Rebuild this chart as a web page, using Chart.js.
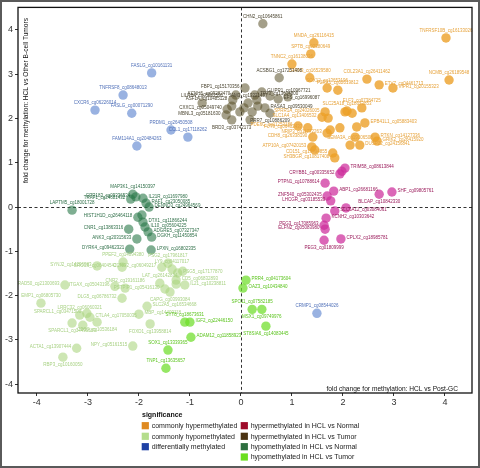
<!DOCTYPE html>
<html><head><meta charset="utf-8">
<script src="https://cdn.jsdelivr.net/npm/chart.js@4"></script>
<style>html,body{margin:0;padding:0;background:#fff;}canvas{display:block;}</style>
</head><body>
<canvas id="c" width="480" height="468"></canvas>
<script>
// ---------- data ----------
const xTicks = [-4,-3,-2,-1,0,1,2,3,4];
const yTicks = [-4,-3,-2,-1,0,1,2,3,4];

const groupNames = ["commonly hypermethylated","commonly hypomethylated","differentially methylated",
  "hypermethylated in HCL vs Normal","hypermethylated in HCL vs Tumor","hypomethylated in HCL vs Normal","hypomethylated in HCL vs Tumor"];

const diffLabels = ["FASLG_cg10161131","TNFRSF8_cg08648013","CXCR6_cg06226014","FASLG_cg00071290","PRDM1_cg26450508","CCL1_cg17118262","FAM114A1_cg20484263","CRMP1_cg08544026"];
const diffX = [-1.75,-2.31,-2.86,-2.14,-1.37,-1.04,-2.04,1.49];
const diffY = [3.03,2.53,2.19,2.12,1.74,1.58,1.38,-2.40];

const hyperTumorLabels = ["CHN2_cg10645861","ACSBG1_cg17251408","LILRB4_cg05002591","CXXC1_cg05049740","MBNL3_cg05181630","BRD3_cg03742173","FBP1_cg15170356","KCNH6_cg09282470","ASF1A_cg10485128","JAM3_cg13221497","TP73_cg13614800","GLIPR1_cg10967721","","EFS_cg16996087","","","","","RASA3_cg09530049","PRR7_cg10886209","","","",""];
const hyperTumorX = [0.43,0.75,-0.76,-0.27,-0.29,-0.18,0.08,-0.10,-0.16,0.14,0.27,0.41,0.57,0.73,0.92,0.06,0.22,0.33,0.47,0.57,-0.02,0.18,0.31,-0.18];
const hyperTumorY = [4.14,2.92,2.35,2.21,2.08,1.97,2.69,2.53,2.42,2.35,2.53,2.60,2.51,2.44,2.49,2.24,2.15,2.28,2.24,2.12,2.15,1.97,2.42,2.28];

const hyperCommonLabels = ["TNFRSF10B_cg16133026","MNDA_cg26116415","SPTB_cg02380649","TNNC2_cg16138036","LRRN3_cg16529580","SOX12_cg13653196","P2RX1_cg02019812","COL23A1_cg26411462","ETV7_cg04461713","VIPR1_cg20155323","NCMB_cg26189548",
  "SLC25A18_cg18673853","ELF3_cg07384725","SPRR1A_cg24026005","SLC1A4_cg13406532","","","","EPB41L1_cg05883403","PDE6C_cg11253186","FUT9_cg06402437","NRIP3_cg11772263","","CDH8_cg26338190","","RTKN_cg14127336","GRIK2_cg26415920","ATP10A_cg07420153","","CD151_cg19494855","SH3BGR_cg10817408","SEMA3A_cg19106508","","","DUSP22_cg24156841"];
const hyperCommonX = [4.02,1.43,1.37,1.00,1.35,1.69,1.90,2.47,2.71,2.98,4.08,
  2.08,2.37,1.65,1.59,1.71,2.04,2.18,2.43,1.12,1.31,1.69,1.75,1.41,2.27,2.63,2.67,1.39,1.45,1.80,1.84,2.14,2.24,1.94,2.33];
const hyperCommonY = [3.82,3.71,3.46,3.23,2.92,2.69,2.64,2.89,2.76,2.69,2.87,
  2.17,2.24,2.15,2.03,2.01,2.15,2.12,1.90,1.83,1.79,1.67,1.74,1.58,1.81,1.58,1.49,1.36,1.29,1.22,1.11,1.40,1.58,1.79,1.40];

const hyperNormalLabels = ["TRIM58_cg08613844","","CRYBB1_cg00335652","PTPN1_cg10788614","ABP1_cg26681166","ZNF540_cg05302435","LHCGR_cg03185530","BLCAP_cg10842330","SHF_cg09805761","SLC6A12_cg03084061","","KCNH2_cg10303642","PEG3_cg17085963","ELFN2_cg05083980","PEG3_cg01809999","CPLX2_cg18985781"];
const hyperNormalX = [2.04,1.98,1.94,1.65,1.82,1.69,1.76,2.71,2.96,1.84,2.06,1.67,1.63,1.65,1.63,1.96];
const hyperNormalY = [0.88,0.81,0.75,0.54,0.36,0.25,0.14,0.29,0.34,-0.09,-0.02,-0.25,-0.41,-0.50,-0.75,-0.72];

const hypoNormalLabels = ["MAP3K1_cg14150397","GPR183_cg09336534","TRAF1_cg24681432","IL21R_cg11697980","RAF1_cg23050085","DENND3_cg24964569","LAPTM5_cg18001728","HIST1H1D_cg26464118","","DTX1_cg11866244","IL10_cg05604225","CNR1_cg13863316","ADGRE5_cg07327347","DGKH_cg11450854","ANK3_cg20315633","DYRK4_cg09462321","LPXN_cg16802335"];
const hypoNormalX = [-2.12,-2.06,-2.16,-1.92,-1.86,-1.80,-3.31,-2.02,-1.94,-1.92,-1.88,-2.20,-1.82,-1.75,-2.04,-2.18,-1.76];
const hypoNormalY = [0.29,0.23,0.18,0.20,0.09,0.00,-0.07,-0.23,-0.18,-0.34,-0.45,-0.50,-0.56,-0.68,-0.72,-0.95,-0.97];

const hypoCommonLabels = ["PPEF2_cg14094380","ERCC6_cg06404542","SYNJ2_cg14296983","PSG2_cg17961817","CCNG2_cg06049217","LY9_cg04117017","PSG5_cg17177870","","CD5_cg06832893","CNR2_cg19161186","LAT_cg26142834","PSTPIP1_cg05416130","IL21_cg10238811","CAPG_cg03993084","",
  "RAD50_cg21300693","EMP1_cg06805730","ITGAX_cg05043196","DLG5_cg06786732","SLC2A5_cg16534668","MBP_cg14400118","LRRC32_cg06060321","SPARCL1_cg03471500","CTLA4_cg17050035","SPARCL1_cg14490569","CD3G_cg10536184","","FOXD1_cg13958814","ACTA1_cg13907444","NPY_cg05161515","RBP3_cg10160050"];
const hypoCommonX = [-2.31,-2.33,-2.82,-1.43,-1.55,-1.35,-1.24,-1.14,-1.27,-2.27,-1.59,-1.49,-1.10,-1.39,-1.27,
  -3.45,-3.92,-2.47,-2.33,-1.84,-2.00,-3.16,-3.02,-2.96,-3.31,-2.82,-3.10,-1.78,-3.22,-2.12,-3.49];
const hypoCommonY = [-1.24,-1.36,-1.33,-1.27,-1.36,-1.40,-1.49,-1.45,-1.65,-1.83,-1.72,-1.85,-1.76,-1.92,-1.74,
  -1.76,-2.17,-1.79,-2.06,-2.24,-2.42,-2.44,-2.40,-2.49,-2.62,-2.60,-2.67,-2.64,-3.19,-3.14,-3.39];

const hypoTumorLabels = ["SYT8_cg18673631","IGF2_cg22446150","ADAM12_cg11858923","SOX1_cg13339365","TNP1_cg13635657","PRR4_cg04173604","OAZ3_cg10434840","SPO11_cg07582185","MSX1_cg09749976","ST8SIA6_cg14083445"];
const hypoTumorX = [-1.10,-1.00,-0.98,-1.43,-1.47,0.10,0.04,0.22,0.41,0.49];
const hypoTumorY = [-2.60,-2.60,-2.94,-3.23,-3.64,-1.65,-1.83,-2.31,-2.31,-2.69];

// ---------- styling ----------
const COL = {
  hyperCommon:{pt:'rgba(236,160,40,0.8)', lab:'#e6a23a', key:'#df8a20'},
  hypoCommon:{pt:'rgba(172,214,128,0.6)', lab:'#a8d184', key:'#b4dd8c'},
  diff:{pt:'rgba(70,115,200,0.55)', lab:'#5070b8', key:'#1f41a5'},
  hyperNormal:{pt:'rgba(205,45,155,0.72)', lab:'#9a1a5a', key:'#9e0b2a'},
  hyperTumor:{pt:'rgba(90,80,40,0.55)', lab:'#4a4430', key:'#4b3312'},
  hypoNormal:{pt:'rgba(40,120,72,0.6)', lab:'#2f6f48', key:'#2e6f3f'},
  hypoTumor:{pt:'rgba(110,222,40,0.72)', lab:'#5cc41e', key:'#6ade1e'}
};
const labelSide = {
  "ETV7_cg04461713":"r","VIPR1_cg20155323":"r","SPRR1A_cg24026005":"l","SLC1A4_cg13406532":"l","PDE6C_cg11253186":"l","FUT9_cg06402437":"l","CDH8_cg26338190":"l","RTKN_cg14127336":"r","GRIK2_cg26415920":"r","ATP10A_cg07420153":"l","CD151_cg19494855":"l","SH3BGR_cg10817408":"l","EPB41L1_cg05883403":"r","DUSP22_cg24156841":"r","NRIP3_cg11772263":"l",
  "FBP1_cg15170356":"l","KCNH6_cg09282470":"l","ASF1A_cg10485128":"l","CXXC1_cg05049740":"l","MBNL3_cg05181630":"l","BRD3_cg03742173":"b","TP73_cg13614800":"r","GLIPR1_cg10967721":"r","EFS_cg16996087":"r","RASA3_cg09530049":"r","PRR7_cg10886209":"b",
  "TRIM58_cg08613844":"r","CRYBB1_cg00335652":"l","PTPN1_cg10788614":"l","ABP1_cg26681166":"r","ZNF540_cg05302435":"l","LHCGR_cg03185530":"l","BLCAP_cg10842330":"b","SHF_cg09805761":"r","SLC6A12_cg03084061":"r","KCNH2_cg10303642":"r","PEG3_cg17085963":"l","ELFN2_cg05083980":"l","PEG3_cg01809999":"b","CPLX2_cg18985781":"r",
  "GPR183_cg09336534":"l","TRAF1_cg24681432":"l","IL21R_cg11697980":"r","RAF1_cg23050085":"r","DENND3_cg24964569":"r","HIST1H1D_cg26464118":"l","DTX1_cg11866244":"r","IL10_cg05604225":"r","CNR1_cg13863316":"l","ADGRE5_cg07327347":"r","DGKH_cg11450854":"r","ANK3_cg20315633":"l","DYRK4_cg09462321":"l","LPXN_cg16802335":"r",
  "ERCC6_cg06404542":"l","SYNJ2_cg14296983":"l","CCNG2_cg06049217":"l","PSG5_cg17177870":"r","CD5_cg06832893":"r","PSTPIP1_cg05416130":"l","IL21_cg10238811":"r","CAPG_cg03993084":"b","RAD50_cg21300693":"l","ITGAX_cg05043196":"l","DLG5_cg06786732":"l","SLC2A5_cg16534668":"r","MBP_cg14400118":"r","SPARCL1_cg03471500":"l","CTLA4_cg17050035":"r","SPARCL1_cg14490569":"b","CD3G_cg10536184":"b","FOXD1_cg13958814":"b","ACTA1_cg13907444":"l","NPY_cg05161515":"l","RBP3_cg10160050":"b",
  "IGF2_cg22446150":"r","ADAM12_cg11858923":"r","PRR4_cg04173604":"r","OAZ3_cg10434840":"r","MSX1_cg09749976":"b","ST8SIA6_cg14083445":"b"
};

function mk(labels, xs, ys, c){
  return {labels, data: xs.map((x,i)=>({x, y: ys[i]})), backgroundColor:c.pt, borderWidth:0, pointRadius:4.7, pointHoverRadius:4.7, labColor:c.lab};
}
const datasets = [
  mk(hyperCommonLabels, hyperCommonX, hyperCommonY, COL.hyperCommon),
  mk(hypoCommonLabels, hypoCommonX, hypoCommonY, COL.hypoCommon),
  mk(diffLabels, diffX, diffY, COL.diff),
  mk(hyperNormalLabels, hyperNormalX, hyperNormalY, COL.hyperNormal),
  mk(hyperTumorLabels, hyperTumorX, hyperTumorY, COL.hyperTumor),
  mk(hypoNormalLabels, hypoNormalX, hypoNormalY, COL.hypoNormal),
  mk(hypoTumorLabels, hypoTumorX, hypoTumorY, COL.hypoTumor)
];
const keyColors = [COL.hyperCommon.key, COL.hypoCommon.key, COL.diff.key, COL.hyperNormal.key, COL.hyperTumor.key, COL.hypoNormal.key, COL.hypoTumor.key];

const FONT = '"Liberation Sans", Arial, sans-serif';

const decor = {
  id:'decor',
  beforeDatasetsDraw(chart){
    const {ctx, chartArea:a, scales:{x,y}} = chart;
    ctx.save();
    ctx.strokeStyle = '#000'; ctx.lineWidth = 0.8; ctx.setLineDash([3,2.5]);
    const x0 = Math.round(x.getPixelForValue(0))+0.5, y0 = Math.round(y.getPixelForValue(0))+0.5;
    ctx.beginPath(); ctx.moveTo(x0, a.top); ctx.lineTo(x0, a.bottom); ctx.stroke();
    ctx.beginPath(); ctx.moveTo(a.left, y0); ctx.lineTo(a.right, y0); ctx.stroke();
    ctx.restore();
  },
  afterDatasetsDraw(chart){
    const {ctx, chartArea:a, scales:{x,y}} = chart;
    ctx.save();
    ctx.font = '4.5px ' + FONT;
    chart.data.datasets.forEach(ds=>{
      ctx.fillStyle = ds.labColor;
      ds.data.forEach((p,i)=>{
        const t = ds.labels[i]; if(!t) return;
        const px = x.getPixelForValue(p.x), py = y.getPixelForValue(p.y);
        const s = labelSide[t] || 'a';
        if(s==='a'){ctx.textAlign='center'; ctx.textBaseline='alphabetic'; ctx.fillText(t, px, py-6);}
        else if(s==='b'){ctx.textAlign='center'; ctx.textBaseline='top'; ctx.fillText(t, px, py+5.5);}
        else if(s==='l'){ctx.textAlign='right'; ctx.textBaseline='middle'; ctx.fillText(t, px-5.5, py-1.5);}
        else {ctx.textAlign='left'; ctx.textBaseline='middle'; ctx.fillText(t, px+5.5, py-1.5);}
      });
    });
    // axis titles inside the panel
    ctx.fillStyle = '#111';
    ctx.font = '6.6px ' + FONT;
    ctx.textAlign='right'; ctx.textBaseline='alphabetic';
    ctx.fillText('fold change for methylation: HCL vs Post-GC', 458, 390.5);
    ctx.save();
    ctx.translate(28, 18); ctx.rotate(-Math.PI/2);
    ctx.textAlign='right'; ctx.fillText('fold change for methylation: HCL vs Other B-cell Tumors', 0, 0);
    ctx.restore();
    // panel border
    ctx.strokeStyle = '#111'; ctx.lineWidth = 1.3; ctx.setLineDash([]);
    ctx.strokeRect(a.left, a.top, a.right-a.left, a.bottom-a.top);
    ctx.restore();
  },
  afterDraw(chart){
    const ctx = chart.ctx;
    ctx.save();
    ctx.fillStyle = '#111';
    ctx.font = 'bold 7px ' + FONT; ctx.textBaseline='middle'; ctx.textAlign='left';
    ctx.fillText('significance', 142, 415);
    ctx.font = '7px ' + FONT;
    const rows = [425.7, 436.3, 446.7, 457];
    groupNames.forEach((g,i)=>{
      const col = i<3 ? 0 : 1;
      const r = i<3 ? i : i-3;
      const kx = col===0 ? 141.7 : 240.7;
      ctx.fillStyle = keyColors[i];
      ctx.fillRect(kx, rows[r]-3.6, 7.2, 7.2);
      ctx.fillStyle = '#1a1a1a';
      ctx.fillText(g, kx+10, rows[r]+0.3);
    });
    // outer frame
    ctx.strokeStyle = '#5a5a5a'; ctx.lineWidth = 2;
    ctx.strokeRect(1, 1, 478, 466);
    ctx.restore();
  }
};

const tickFont = {family: FONT, size: 9};
new Chart(document.getElementById('c'), {
  type:'scatter',
  data:{datasets},
  options:{
    responsive:false, animation:false, devicePixelRatio:1,
    events:[],
    layout:{padding:{left:0, right:8, top:7, bottom:59}},
    plugins:{legend:{display:false}, tooltip:{enabled:false}},
    scales:{
      x:{type:'linear', min:-4.37, max:4.53,
        afterBuildTicks(s){ s.ticks = xTicks.map(v=>({value:v})); },
        afterFit(s){ s.height = 16; },
        ticks:{font:tickFont, color:'#333', padding:1, maxRotation:0, autoSkip:false},
        grid:{display:true, drawOnChartArea:false, drawTicks:true, tickLength:3, color:'#333', tickWidth:1},
        border:{display:false}
      },
      y:{type:'linear', min:-4.2, max:4.51,
        afterBuildTicks(s){ s.ticks = yTicks.map(v=>({value:v})); },
        afterFit(s){ s.width = 18; },
        ticks:{font:tickFont, color:'#333', padding:2, autoSkip:false},
        grid:{display:true, drawOnChartArea:false, drawTicks:true, tickLength:3, color:'#333', tickWidth:1},
        border:{display:false}
      }
    }
  },
  plugins:[decor]
});
</script>
</body></html>
